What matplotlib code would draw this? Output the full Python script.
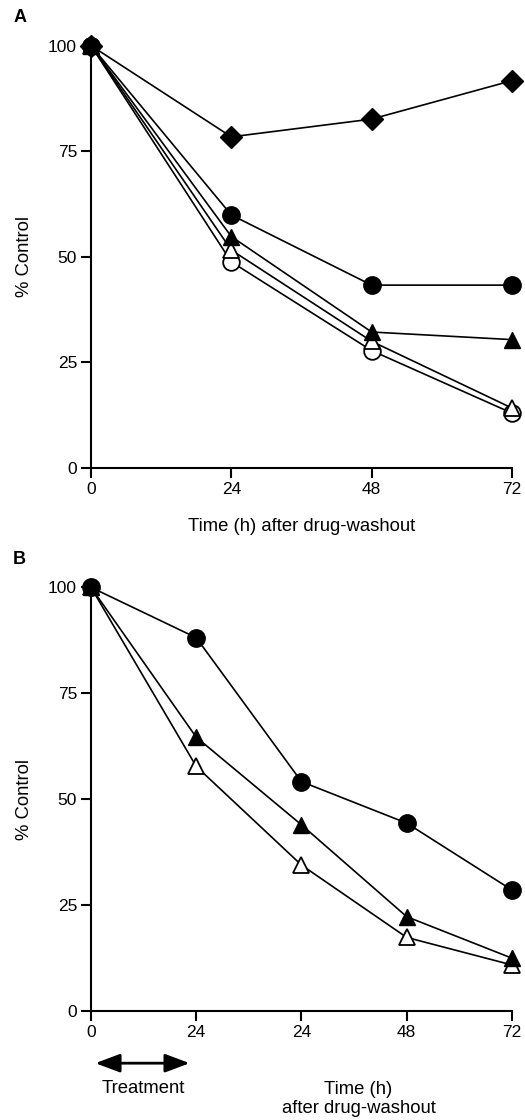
import matplotlib.pyplot as plt

plt.rcParams['font.family'] = ['Liberation Sans', 'DejaVu Sans']
plt.rcParams['font.size'] = 12.5

# Panel A data
hours_a = [0, 24, 48, 72]
a_diamond = [100, 78.4, 82.6, 91.7]
a_fcircle = [100, 59.9, 43.3, 43.3]
a_ftri = [100, 54.8, 32.2, 30.4]
a_otri = [100, 51.6, 30.0, 14.2]
a_ocircle = [100, 48.8, 27.8, 13.0]

# Panel B data (first interval is treatment, then washout)
pos_b = [0, 24, 48, 72, 96]
b_labels = ["0", "24", "24", "48", "72"]
b_fcircle = [100, 88.1, 54.1, 44.3, 28.5]
b_ftri = [100, 64.6, 43.9, 22.2, 12.4]
b_otri = [100, 57.7, 34.4, 17.3, 10.8]

fig = plt.figure(figsize=(5.25, 11.2), dpi=100)
ax_a = fig.add_axes([0.1733, 0.5821, 0.8019, 0.3772])
ax_b = fig.add_axes([0.1733, 0.0976, 0.8019, 0.3780])

line_kw = dict(color='black', lw=1.2, clip_on=False)
label_fs = 13.3


def style(ax):
    for s in ['top', 'right']:
        ax.spines[s].set_visible(False)
    for s in ['left', 'bottom']:
        ax.spines[s].set_linewidth(1.5)
    ax.set_ylim(0, 100)
    ax.set_yticks([0, 25, 50, 75, 100])
    ax.tick_params(direction='out', length=7, width=1.5, labelsize=12.5, pad=3)
    ax.set_ylabel("% Control", fontsize=label_fs, labelpad=11)


# Panel A
ax_a.plot(hours_a, a_diamond, marker='D', ms=11, mfc='black', mec='black', zorder=3, **line_kw)
ax_a.plot(hours_a, a_ocircle, marker='o', ms=12, mfc='white', mec='black', mew=1.3, zorder=3, **line_kw)
ax_a.plot(hours_a, a_otri, marker='^', ms=12, mfc='white', mec='black', mew=1.3, zorder=3, **line_kw)
ax_a.plot(hours_a, a_ftri, marker='^', ms=12, mfc='black', mec='black', zorder=3, **line_kw)
ax_a.plot(hours_a, a_fcircle, marker='o', ms=12.5, mfc='black', mec='black', zorder=4, **line_kw)
ax_a.set_xlim(0, 72)
ax_a.set_xticks(hours_a)
style(ax_a)
ax_a.set_xlabel("Time (h) after drug-washout", fontsize=label_fs, labelpad=15)

# Panel B
ax_b.plot(pos_b, b_otri, marker='^', ms=12, mfc='white', mec='black', mew=1.3, zorder=3, **line_kw)
ax_b.plot(pos_b, b_ftri, marker='^', ms=12, mfc='black', mec='black', zorder=3, **line_kw)
ax_b.plot(pos_b, b_fcircle, marker='o', ms=12.5, mfc='black', mec='black', zorder=4, **line_kw)
ax_b.set_xlim(0, 96)
ax_b.set_xticks(pos_b)
ax_b.set_xticklabels(b_labels)
style(ax_b)

ax_b.annotate("", xy=(1.0, -0.124), xytext=(22.5, -0.124),
              xycoords=('data', 'axes fraction'), textcoords=('data', 'axes fraction'),
              arrowprops=dict(arrowstyle='<|-|>,head_length=1.2,head_width=0.45',
                              color='black', lw=2, shrinkA=0, shrinkB=0))
ax_b.text(12, -0.183, "Treatment", transform=ax_b.get_xaxis_transform(),
          ha='center', va='center', fontsize=label_fs)
ax_b.text(61, -0.209, "Time (h)\nafter drug-washout", transform=ax_b.get_xaxis_transform(),
          ha='center', va='center', fontsize=label_fs, linespacing=1.15)

fig.text(0.025, 0.984, "A", fontsize=13, fontweight='bold', va='center')
fig.text(0.025, 0.5, "B", fontsize=13, fontweight='bold', va='center')

fig.savefig("out.png", dpi=100)
